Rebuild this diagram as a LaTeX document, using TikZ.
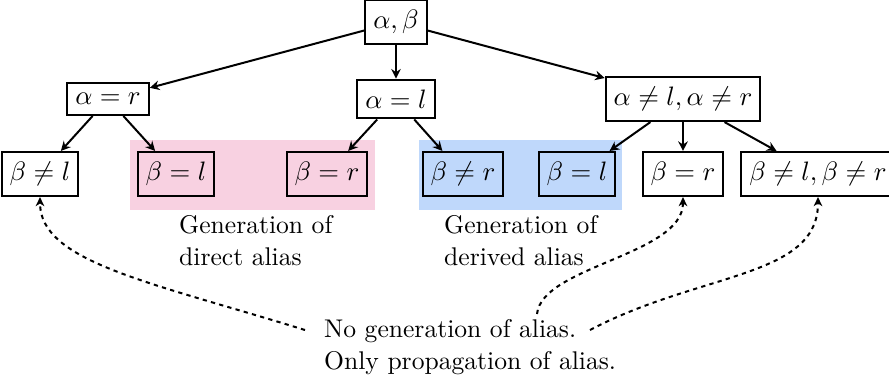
\documentclass[tikz,border=0pt]{standalone}
\usepackage{amsmath}
\usepackage{tikz}
\usetikzlibrary{arrows.meta,backgrounds}
\definecolor{directpink}{RGB}{248,209,225}
\definecolor{derivedblue}{RGB}{191,216,251}
\tikzset{
  casebox/.style={draw=black, line width=0.8pt, inner xsep=3pt, inner ysep=3.8pt},
  arrow/.style={-{Stealth[length=3.6pt,width=3.6pt,inset=1.2pt]}, line width=0.75pt},
  dashedarrow/.style={-{Stealth[length=3.4pt,width=3.2pt,inset=1pt]}, line width=0.75pt, dash pattern=on 1.6pt off 1.6pt},
  notetext/.style={align=left, inner sep=1pt, anchor=west, font=\fontsize{9.6}{12}\selectfont}
}

\begin{document}
\begin{tikzpicture}[x=0.375pt, y=-0.375pt]
\useasboundingbox (0,0) rectangle (889,385);
% case split on alpha
\node[casebox] (root) at (396,22) {$\alpha, \beta$};
\node[casebox] (ar) at (108,99) {$\alpha = r$};
\node[casebox] (al) at (396,99) {$\alpha = l$};
\node[casebox] (ann) at (683,99) {$\alpha \neq l, \alpha \neq r$};
% case split on beta
\node[casebox] (bnl) at (40,174) {$\beta \neq l$};
\node[casebox] (bdl) at (176,174) {$\beta = l$};
\node[casebox] (bdr) at (327,174) {$\beta = r$};
\node[casebox] (bnr) at (463,174) {$\beta \neq r$};
\node[casebox] (bvl) at (577,174) {$\beta = l$};
\node[casebox] (bpr) at (683,174) {$\beta = r$};
\node[casebox] (bnn) at (818,174) {$\beta \neq l, \beta \neq r$};
% highlighted groups
\begin{scope}[on background layer]
\fill[directpink] (130,140) rectangle (375,210);
\fill[derivedblue] (419,140) rectangle (622,210);
\end{scope}
\node[notetext] (direct) at (176,241) {Generation of\\direct alias};
\node[notetext] (derived) at (441,241) {Generation of\\derived alias};
\node[notetext] (note) at (321,347) {No generation of alias.\\Only propagation of alias.};
\draw[arrow] (root) -- (ar);
\draw[arrow] (root) -- (al);
\draw[arrow] (root) -- (ann);
\draw[arrow] (ar) -- (bnl);
\draw[arrow] (ar) -- (bdl);
\draw[arrow] (al) -- (bdr);
\draw[arrow] (al) -- (bnr);
\draw[arrow] (ann) -- (bvl);
\draw[arrow] (ann) -- (bpr);
\draw[arrow] (ann) -- (bnn);
% pointers from the note
\coordinate (fromA) at (305,330);
\coordinate (fromB) at (537,314);
\coordinate (fromC) at (590,330);
\draw[dashedarrow] (fromA) .. controls (150,282) and (40,262) .. (bnl.south);
\draw[dashedarrow] (fromB) .. controls (542,266) and (683,255) .. (bpr.south);
\draw[dashedarrow] (fromC) .. controls (700,272) and (818,278) .. (bnn.south);
\end{tikzpicture}
\end{document}
